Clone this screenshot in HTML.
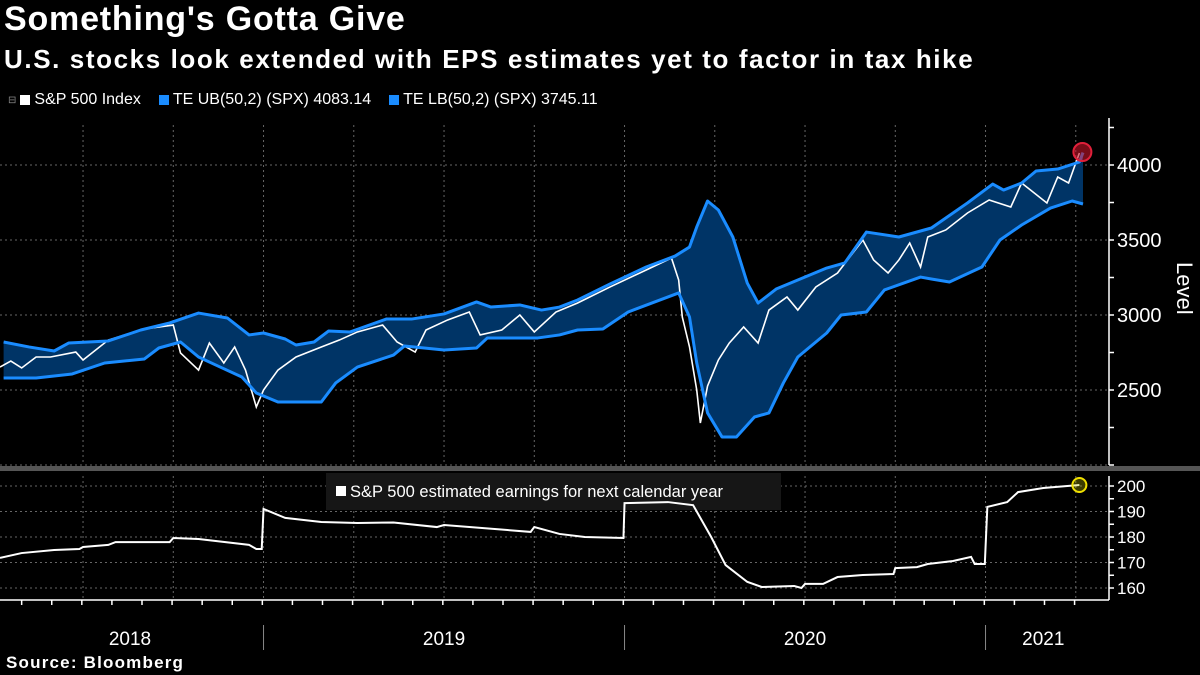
<!DOCTYPE html>
<html><head><meta charset="utf-8"><style>
html,body{margin:0;padding:0;background:#000;width:1200px;height:675px;overflow:hidden;font-family:"Liberation Sans",sans-serif;color:#fff}
#title{position:absolute;left:4px;top:0px;font-size:34px;font-weight:bold;letter-spacing:0.8px}
#subtitle{position:absolute;left:4px;top:44px;font-size:26px;font-weight:bold;letter-spacing:1.6px}
#legend{position:absolute;left:8px;top:91px;font-size:16px;display:flex;gap:18px}
.li{display:flex;align-items:center;gap:4px}
.sw{width:10px;height:10px;display:inline-block}
#source{position:absolute;left:6px;top:653px;font-size:17px;font-weight:bold;letter-spacing:1.2px}
svg{position:absolute;left:0;top:0}
</style></head><body>
<div id="title">Something's Gotta Give</div>
<div id="subtitle">U.S. stocks look extended with EPS estimates yet to factor in tax hike</div>
<div id="legend">
 <div class="li"><span style="color:#888;font-size:10px">⊟</span><span class="sw" style="background:#fff"></span>S&amp;P 500 Index</div>
 <div class="li"><span class="sw" style="background:#1a8cff"></span>TE UB(50,2) (SPX) 4083.14</div>
 <div class="li"><span class="sw" style="background:#1a8cff"></span>TE LB(50,2) (SPX) 3745.11</div>
</div>
<div id="source">Source: Bloomberg</div>
<svg id="chart" width="1200" height="675"></svg>
<script>
const ubDates=[2018.28,2018.35,2018.42,2018.46,2018.57,2018.66,2018.74,2018.82,2018.90,2018.96,2019.00,2019.06,2019.09,2019.14,2019.18,2019.24,2019.34,2019.41,2019.50,2019.59,2019.63,2019.71,2019.77,2019.82,2019.87,2019.96,2020.06,2020.14,2020.18,2020.20,2020.23,2020.26,2020.30,2020.34,2020.37,2020.42,2020.46,2020.56,2020.61,2020.67,2020.76,2020.85,2020.95,2021.02,2021.05,2021.10,2021.14,2021.20,2021.26,2021.27];
const ubValues=[2820,2787,2760,2813,2827,2900,2947,3013,2980,2867,2880,2840,2800,2820,2893,2887,2973,2973,3007,3087,3053,3067,3033,3053,3100,3207,3320,3393,3453,3587,3760,3700,3520,3213,3080,3173,3213,3313,3347,3553,3520,3580,3747,3873,3833,3880,3960,3973,4020,4083];
const lbDates=[2018.28,2018.37,2018.47,2018.56,2018.67,2018.71,2018.77,2018.82,2018.88,2018.94,2018.98,2019.04,2019.16,2019.20,2019.26,2019.36,2019.39,2019.50,2019.59,2019.62,2019.76,2019.82,2019.87,2019.94,2020.01,2020.15,2020.18,2020.20,2020.23,2020.27,2020.31,2020.36,2020.40,2020.44,2020.48,2020.56,2020.60,2020.67,2020.72,2020.82,2020.85,2020.90,2020.99,2021.04,2021.10,2021.18,2021.24,2021.27];
const lbValues=[2580,2580,2607,2680,2707,2780,2820,2720,2653,2587,2480,2420,2420,2547,2653,2733,2793,2767,2780,2847,2847,2867,2900,2907,3020,3147,2987,2680,2347,2187,2187,2320,2347,2547,2720,2880,3000,3020,3167,3253,3240,3220,3320,3500,3600,3713,3760,3740];
const spxDates=[2018.27,2018.30,2018.33,2018.37,2018.41,2018.48,2018.50,2018.57,2018.67,2018.75,2018.77,2018.82,2018.85,2018.89,2018.92,2018.95,2018.98,2019.00,2019.04,2019.09,2019.16,2019.21,2019.26,2019.33,2019.37,2019.42,2019.45,2019.51,2019.57,2019.60,2019.66,2019.71,2019.75,2019.81,2019.87,2019.96,2020.06,2020.13,2020.15,2020.16,2020.18,2020.20,2020.21,2020.23,2020.26,2020.29,2020.33,2020.37,2020.40,2020.45,2020.48,2020.53,2020.59,2020.66,2020.69,2020.73,2020.76,2020.79,2020.82,2020.84,2020.89,2020.95,2021.01,2021.07,2021.10,2021.17,2021.20,2021.23,2021.26];
const spxValues=[2653,2693,2647,2720,2720,2753,2700,2833,2907,2933,2747,2633,2813,2680,2787,2633,2387,2500,2633,2720,2787,2833,2887,2933,2820,2753,2900,2967,3020,2867,2900,3000,2887,3020,3080,3187,3300,3380,3233,2987,2787,2500,2280,2527,2700,2813,2920,2813,3033,3120,3033,3187,3280,3500,3367,3280,3367,3480,3320,3520,3567,3680,3767,3720,3880,3747,3920,3880,4080];
const epsDates=[2018.27,2018.33,2018.42,2018.49,2018.50,2018.57,2018.59,2018.74,2018.75,2018.82,2018.96,2018.98,2018.995,2019.00,2019.06,2019.16,2019.26,2019.36,2019.48,2019.50,2019.74,2019.75,2019.82,2019.89,2019.997,2020.00,2020.12,2020.19,2020.24,2020.28,2020.34,2020.38,2020.47,2020.49,2020.50,2020.55,2020.59,2020.66,2020.745,2020.75,2020.81,2020.84,2020.91,2020.96,2020.97,2020.998,2021.005,2021.06,2021.09,2021.16,2021.26];
const epsValues=[171.8,173.7,174.9,175.3,176.1,176.9,178.0,178.0,179.6,179.2,176.9,175.3,175.3,191.0,187.5,185.9,185.5,185.7,183.9,184.7,182.0,183.9,181.2,180.0,179.6,193.3,193.7,192.5,180.0,169.0,162.4,160.4,160.8,160.0,161.6,161.6,164.3,165.1,165.5,167.8,168.2,169.4,170.6,172.2,169.4,169.4,191.8,193.7,197.6,199.2,200.4];
const topTicks=[2500,3000,3500,4000];
const botTicks=[160,170,180,190,200];
const yearLabels=["2018","2019","2020","2021"];
const yearPos=[2018.63,2019.5,2020.5,2021.16];

const T0=2018.27, PX=361, AX=1109;
const xS=t=>(t-T0)*PX;
const yT=v=>165+(4000-v)*0.15;
const yB=v=>486+(200-v)*2.55;
const svg=document.getElementById('chart');
const NS='http://www.w3.org/2000/svg';
function mk(tag,attrs,parent){const e=document.createElementNS(NS,tag);for(const k in attrs)e.setAttribute(k,attrs[k]);(parent||svg).appendChild(e);return e;}

const grid=mk('g',{});


for(let q=2018.5;q<=2021.26;q+=0.25){const x=xS(q);
 mk('line',{x1:x,x2:x,y1:125,y2:465,stroke:'#666','stroke-dasharray':'2,3','stroke-width':1},grid);
 mk('line',{x1:x,x2:x,y1:476,y2:600,stroke:'#666','stroke-dasharray':'2,3','stroke-width':1},grid);}
for(const v of topTicks.concat([2000])) mk('line',{x1:0,x2:AX,y1:yT(v),y2:yT(v),stroke:'#666','stroke-dasharray':'2,3'},grid);
for(const v of botTicks) mk('line',{x1:0,x2:AX,y1:yB(v),y2:yB(v),stroke:'#666','stroke-dasharray':'2,3'},grid);

let pts=ubDates.map((d,i)=>xS(d)+','+yT(ubValues[i]));
for(let i=lbDates.length-1;i>=0;i--)pts.push(xS(lbDates[i])+','+yT(lbValues[i]));
const band=mk('polygon',{points:pts.join(' '),fill:'#003466'});


const spx=mk('polyline',{points:spxDates.map((d,i)=>xS(d)+','+yT(spxValues[i])).join(' '),fill:'none',stroke:'#fff','stroke-width':1.6});


const ub=mk('polyline',{points:ubDates.map((d,i)=>xS(d)+','+yT(ubValues[i])).join(' '),fill:'none',stroke:'#1a8cff','stroke-width':3,'stroke-linejoin':'round'});


const lb=mk('polyline',{points:lbDates.map((d,i)=>xS(d)+','+yT(lbValues[i])).join(' '),fill:'none',stroke:'#1a8cff','stroke-width':3,'stroke-linejoin':'round'});


const rc=mk('circle',{cx:xS(spxDates[spxDates.length-1])+3,cy:yT(spxValues[spxValues.length-1])-1,r:9,fill:'rgba(200,20,40,0.6)',stroke:'#e0203a','stroke-width':2});



const dv=mk('rect',{x:0,y:466,width:1200,height:5,fill:'#555'});



const lbx=mk('rect',{x:326,y:473,width:455,height:37,fill:'#161616'});


mk('rect',{x:336,y:486,width:10,height:10,fill:'#fff'});
const lt=mk('text',{x:350,y:497,fill:'#fff','font-size':16.5,'font-family':'Liberation Sans, sans-serif'});
lt.textContent='S&P 500 estimated earnings for next calendar year';



const eps=mk('polyline',{points:epsDates.map((d,i)=>xS(d)+','+yB(epsValues[i])).join(' '),fill:'none',stroke:'#fff','stroke-width':2});


const yc=mk('circle',{cx:xS(epsDates[epsDates.length-1]),cy:yB(epsValues[epsValues.length-1]),r:7,fill:'rgba(200,200,0,0.3)',stroke:'#f0e000','stroke-width':2});



const ax=mk('g',{stroke:'#fff','stroke-width':1.5});


mk('line',{x1:AX,x2:AX,y1:118,y2:465},ax);
mk('line',{x1:AX,x2:AX,y1:476,y2:600},ax);
mk('line',{x1:0,x2:AX,y1:600,y2:600},ax);
for(let v=2000;v<=4250;v+=250) mk('line',{x1:AX,x2:AX+5,y1:yT(v),y2:yT(v)},ax);
for(let v=155;v<=205;v+=5) if(yB(v)>=478&&yB(v)<=600) mk('line',{x1:AX,x2:AX+5,y1:yB(v),y2:yB(v)},ax);
for(let m=2018.33;m<=2021.3;m+=1/12) mk('line',{x1:xS(m),x2:xS(m),y1:600,y2:605},ax);
for(const v of topTicks){const t=mk('text',{x:1117,y:yT(v)+7,fill:'#fff','font-size':20,'font-family':'Liberation Sans, sans-serif'});t.textContent=v;

}
for(const v of botTicks){const t=mk('text',{x:1117,y:yB(v)+6,fill:'#fff','font-size':17,'font-family':'Liberation Sans, sans-serif'});t.textContent=v;

}
const lv=mk('text',{x:0,y:0,fill:'#fff','font-size':22,'font-family':'Liberation Sans, sans-serif',transform:'translate(1177,262) rotate(90)'});
lv.textContent='Level';


for(const y of [2019,2020,2021]) mk('line',{x1:xS(y),x2:xS(y),y1:625,y2:650,stroke:'#888','stroke-width':1});
yearLabels.forEach((s,i)=>{const t=mk('text',{x:xS(yearPos[i]),y:645,fill:'#fff','font-size':19,'text-anchor':'middle','font-family':'Liberation Sans, sans-serif'});t.textContent=s;

});
</script>
</body></html>
